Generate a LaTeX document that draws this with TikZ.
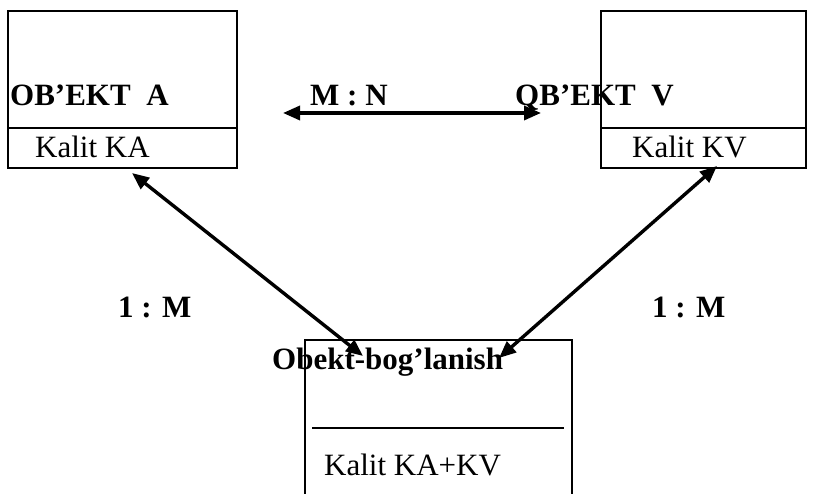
\documentclass[tikz,border=0pt]{standalone}
\usepackage{fontspec}
\setmainfont{Liberation Serif}
\usetikzlibrary{arrows.meta}
\begin{document}
\begin{tikzpicture}[x=1pt,y=-1pt,
  box/.style={line width=1.6pt},
  link/.style={line width=3.4pt,{Triangle[length=17pt,width=14pt]}-{Triangle[length=17pt,width=14pt]}},
  title/.style={anchor=base west,inner sep=0pt,font=\fontsize{31}{36}\selectfont\bfseries},
  key/.style={anchor=base west,inner sep=0pt,font=\fontsize{31}{36}\selectfont}]
\useasboundingbox (0,0) rectangle (814,494);
\clip (0,0) rectangle (814,494);

\draw[box] (8,11) rectangle (237,168);
\draw[box] (8,128) -- (237,128);
\draw[box] (601,11) rectangle (806,168);
\draw[box] (601,128) -- (806,128);
\draw[box] (305,500) -- (305,340) -- (572,340) -- (572,500);
\draw[box] (312,428) -- (564,428);

\node[title] (ta) at (10,106) {OB’EKT\ \ A};
\node[key] (ka) at (35,158) {Kalit KA};
\node[title] (tv) at (515,106) {QB’EKT\ \ V};
\node[key] (kv) at (632,158) {Kalit KV};
\node[title] (tr) at (272,370) {Obekt-bog’lanish};
\node[key] (kr) at (324,475) {Kalit KA+KV};

\node[title] (mn) at (310,106) {M : N};
\node[title] (m1) at (118,318) {1 : M};
\node[title] (m2) at (652,318) {1 : M};

\coordinate (a1) at (283,113);
\coordinate (v1) at (541,113);
\coordinate (a2) at (132,173);
\coordinate (r1) at (363,356);
\coordinate (v2) at (717,166);
\coordinate (r2) at (499,358);

\draw[link] (a1) -- (v1);
\draw[link] (a2) -- (r1);
\draw[link] (v2) -- (r2);

\end{tikzpicture}
\end{document}
